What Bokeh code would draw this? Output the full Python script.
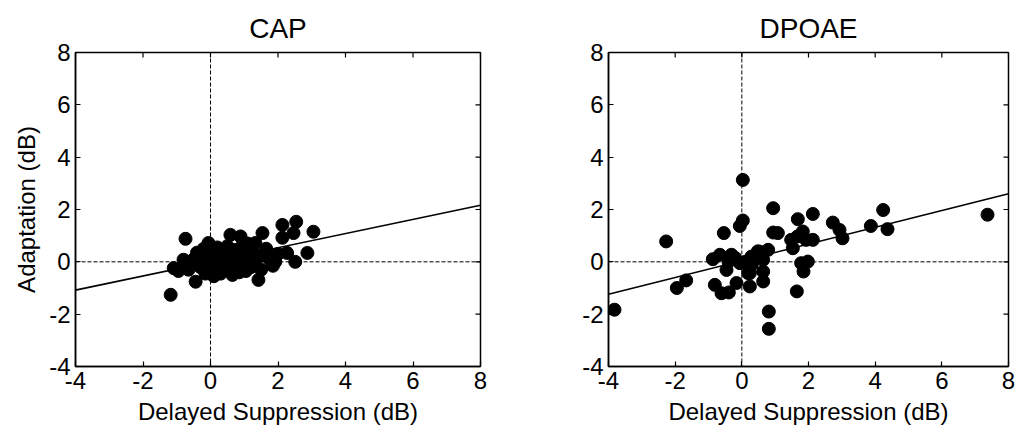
import math
from bokeh.plotting import figure
from bokeh.layouts import row
from bokeh.models import Range1d, LinearAxis, FixedTicker, Span
from bokeh.embed import file_html
from bokeh.resources import INLINE

# Axis ticks shared by both panels
tick_values = [-4, -2, 0, 2, 4, 6, 8]
tick_labels = ["-4", "-2", "0", "2", "4", "6", "8"]
axis_min, axis_max = -4, 8

# CAP: delayed suppression (x) vs adaptation (y), dB
cap_x = [-1.18, -0.74, -1.09, -0.95, -0.80, -0.65, -0.44, -0.50, -0.40, -0.30,
         -0.20, -0.06, -0.10, -0.15, 0.00, 0.05, 0.10, 0.15, 0.20, 0.25,
         0.30, 0.35, 0.40, 0.45, 0.50, 0.55, 0.59, 0.60, 0.65, 0.70,
         0.75, 0.80, 0.89, 0.85, 0.90, 0.95, 1.00, 1.05, 1.10, 1.15,
         1.20, 1.25, 1.33, 1.35, 1.42, 1.50, 1.54, 1.55, 1.65, 1.75,
         1.85, 1.92, 2.00, 2.13, 2.13, 2.27, 2.46, 2.51, 2.54, 2.87,
         3.05, 0.10, 0.45, 0.75, 1.10, -0.25, 0.30, 0.95]
cap_y = [-1.26, 0.88, -0.24, -0.35, 0.08, -0.30, -0.76, 0.10, 0.35, -0.20,
         0.50, 0.72, 0.10, -0.45, -0.25, 0.35, -0.55, 0.15, 0.55, -0.10,
         -0.45, 0.30, 0.05, -0.30, 0.60, -0.05, 1.03, 0.25, -0.50, 0.45,
         -0.15, 0.15, 0.97, -0.40, 0.55, -0.05, 0.30, -0.35, 0.70, 0.05,
         -0.20, 0.40, 0.72, 0.10, -0.69, -0.30, 1.10, 0.25, 0.50, 0.10,
         -0.15, 0.00, 0.30, 0.92, 1.41, 0.34, 1.10, 0.00, 1.53, 0.34,
         1.15, 0.20, 0.20, 0.35, 0.20, 0.00, 0.10, 0.15]

# DPOAE: delayed suppression (x) vs adaptation (y), dB
dp_x = [-3.82, -2.27, -1.95, -1.67, 0.03, 0.03, -0.06, -0.54, -0.87, -0.66,
        -0.31, -0.46, -0.81, -0.61, -0.39, -0.16, 0.24, 0.24, -0.06, 0.29,
        0.48, 0.94, 1.08, 0.94, 1.68, 2.13, 1.48, 1.83, 1.67, 1.53,
        2.13, 1.93, 2.73, 2.93, 3.02, 3.87, 4.24, 4.37, 1.78, 1.98,
        1.85, 1.65, 0.81, 0.81, 0.79, 0.54, 0.64, 0.64, 0.64, 0.19,
        7.37, -0.20, 0.10, -0.40, 0.30]
dp_y = [-1.83, 0.78, -1.00, -0.71, 3.13, 1.58, 1.37, 1.10, 0.10, 0.27,
        0.27, -0.31, -0.88, -1.20, -1.17, -0.81, -0.94, -0.43, -0.05, 0.20,
        0.40, 2.05, 1.10, 1.12, 1.63, 1.83, 0.84, 1.16, 0.97, 0.52,
        0.84, 0.84, 1.50, 1.22, 0.90, 1.37, 1.98, 1.25, -0.05, 0.01,
        -0.37, -1.13, -1.90, -2.56, 0.46, 0.39, 0.08, -0.37, -0.75, -0.43,
        1.80, 0.15, 0.00, 0.00, -0.10]

# Linear fits (slope, intercept)
cap_fit = (0.27, 0.0)
dp_fit = (0.32, 0.04)

FONT = "Liberation Sans"


def panel(title, xs, ys, fit, width, border_left, border_right, y_label):
    p = figure(width=width, height=436, output_backend="svg", toolbar_location=None,
               x_range=Range1d(axis_min, axis_max), y_range=Range1d(axis_min, axis_max),
               x_axis_type=None, y_axis_type=None,
               min_border_left=border_left, min_border_right=border_right,
               min_border_top=52, min_border_bottom=70)
    p.grid.visible = False
    p.outline_line_color = "black"
    p.outline_line_width = 1.5
    p.background_fill_color = "white"
    p.border_fill_color = "white"

    p.title.text = title
    p.title.align = "center"
    p.title.text_font = FONT
    p.title.text_font_size = "28px"
    p.title.text_font_style = "normal"
    p.title.text_color = "black"
    p.title.vertical_align = "top"
    p.title.text_line_height = 1.0
    p.title.standoff = 14

    ticker = FixedTicker(ticks=tick_values)
    overrides = {t: s for t, s in zip(tick_values, tick_labels)}

    def make_axis(label=None):
        ax = LinearAxis(ticker=ticker)
        ax.major_tick_in = 5
        ax.major_tick_out = 0
        ax.minor_tick_line_color = None
        ax.axis_line_color = "black"
        ax.axis_line_width = 1.5
        ax.major_tick_line_width = 1.2
        ax.major_label_overrides = overrides
        ax.major_label_text_font = FONT
        ax.major_label_text_font_size = "24px"
        ax.major_label_text_color = "black"
        ax.major_label_standoff = 5
        if label:
            ax.axis_label = label
            ax.axis_label_text_font = FONT
            ax.axis_label_text_font_size = "24px"
            ax.axis_label_text_font_style = "normal"
            ax.axis_label_text_color = "black"
            ax.axis_label_standoff = 6
        return ax

    p.add_layout(make_axis("Delayed Suppression (dB)"), "below")
    p.add_layout(make_axis(y_label), "left")

    # inward tick marks on the top and right edges of the box
    n = len(tick_values)
    p.ray(x=tick_values, y=[axis_max] * n, length=5, length_units="screen",
          angle=-math.pi / 2, line_color="black", line_width=1.2)
    p.ray(x=[axis_max] * n, y=tick_values, length=5, length_units="screen",
          angle=math.pi, line_color="black", line_width=1.2)

    # zero reference lines
    p.add_layout(Span(location=0, dimension="width", line_color="black",
                      line_dash="4 2", line_width=1))
    p.add_layout(Span(location=0, dimension="height", line_color="black",
                      line_dash="4 2", line_width=1))

    slope, intercept = fit
    fx = [axis_min, axis_max]
    fy = [slope * v + intercept for v in fx]
    p.line(fx, fy, line_color="black", line_width=1.6)

    p.scatter(xs, ys, marker="circle", size=13, fill_color="black", line_color="black")
    return p


p1 = panel("CAP", cap_x, cap_y, cap_fit, 509, 75, 29, "Adaptation (dB)")
p2 = panel("DPOAE", dp_x, dp_y, dp_fit, 509, 99, 10, None)

layout = row(p1, p2)
open("out.html", "w").write(file_html(layout, INLINE))
